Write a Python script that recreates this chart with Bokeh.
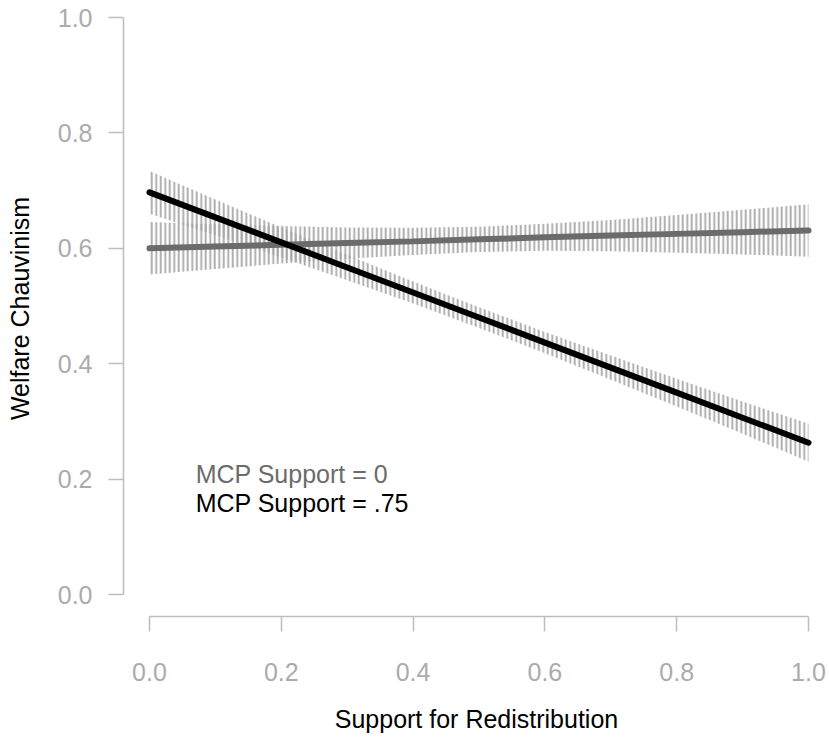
from bokeh.plotting import figure
from bokeh.models import Range1d, FixedTicker, PrintfTickFormatter, Label
from bokeh.embed import file_html
from bokeh.resources import INLINE

# Data
x_vals = [0.0, 0.1, 0.2, 0.3, 0.4, 0.5, 0.6, 0.7, 0.8, 0.9, 1.0]

mcp0_fit = [0.600, 0.603, 0.606, 0.609, 0.612, 0.6155, 0.619, 0.622, 0.625, 0.628, 0.631]
mcp0_lower = [0.5545, 0.5643, 0.5735, 0.5818, 0.5886, 0.5935, 0.5956, 0.5948, 0.5925, 0.5893, 0.5855]
mcp0_upper = [0.6455, 0.6417, 0.6385, 0.6362, 0.6354, 0.6375, 0.6424, 0.6492, 0.6575, 0.6667, 0.6765]

mcp75_fit = [0.697, 0.6536, 0.6102, 0.5668, 0.5234, 0.480, 0.4366, 0.3932, 0.3498, 0.3064, 0.263]
mcp75_lower = [0.660, 0.6226, 0.5842, 0.5448, 0.5044, 0.462, 0.4181, 0.3722, 0.3258, 0.2784, 0.230]
mcp75_upper = [0.734, 0.6846, 0.6362, 0.5888, 0.5424, 0.498, 0.4551, 0.4142, 0.3738, 0.3344, 0.296]

ticks = [0.0, 0.2, 0.4, 0.6, 0.8, 1.0]
legend_labels = ["MCP Support = 0", "MCP Support = .75"]

FONT = "Liberation Sans"
AXIS_GREY = "#bdbdbd"
TICK_GREY = "#ababab"
LINE_GREY = "#6b6b6b"
HATCH_GREY = "#a6a6a6"

p = figure(width=829, height=737, output_backend="svg", toolbar_location=None,
           frame_width=706, frame_height=616,
           min_border_left=123, min_border_right=0, min_border_top=0, min_border_bottom=121,
           x_range=Range1d(-26 / 659, 680 / 659), y_range=Range1d(-22 / 577, 594 / 577))
p.outline_line_color = None
p.grid.visible = False
p.background_fill_color = "white"
p.border_fill_color = "white"

for ax in (p.xaxis[0], p.yaxis[0]):
    ax.bounds = (0, 1)
    ax.ticker = FixedTicker(ticks=ticks)
    ax.formatter = PrintfTickFormatter(format="%.1f")
    ax.axis_line_color = AXIS_GREY
    ax.axis_line_width = 1.5
    ax.major_tick_line_color = AXIS_GREY
    ax.major_tick_line_width = 1.5
    ax.major_tick_out = 15
    ax.major_tick_in = 0
    ax.minor_tick_line_color = None
    ax.major_label_text_font = FONT
    ax.major_label_text_font_size = "25px"
    ax.major_label_text_color = TICK_GREY
    ax.axis_label_text_font = FONT
    ax.axis_label_text_font_size = "25px"
    ax.axis_label_text_font_style = "normal"
    ax.axis_label_text_color = "black"

p.xaxis.axis_label = "Support for Redistribution"
p.yaxis.axis_label = "Welfare Chauvinism"
p.xaxis.major_label_standoff = 31
p.yaxis.major_label_standoff = 16
p.xaxis.axis_label_standoff = 21
p.yaxis.axis_label_standoff = 21

def band(xs, lo, hi):
    return list(xs) + list(xs)[::-1], list(lo) + list(hi)[::-1]

for lo, hi in ((mcp0_lower, mcp0_upper), (mcp75_lower, mcp75_upper)):
    bx, by = band(x_vals, lo, hi)
    p.patch(bx, by, fill_color=None, line_color=None, hatch_pattern="vertical_line",
            hatch_color=HATCH_GREY, hatch_weight=1.8, hatch_scale=4.5)

p.line(x_vals, mcp0_fit, line_color=LINE_GREY, line_width=6, line_cap="round")
p.line(x_vals, mcp75_fit, line_color="black", line_width=6, line_cap="round")

p.add_layout(Label(x=0.07, y=0.208, text=legend_labels[0], text_font=FONT,
                   text_font_size="25px", text_color=LINE_GREY, text_baseline="middle"))
p.add_layout(Label(x=0.07, y=0.159, text=legend_labels[1], text_font=FONT,
                   text_font_size="25px", text_color="black", text_baseline="middle"))

open("out.html", "w").write(file_html(p, INLINE))
